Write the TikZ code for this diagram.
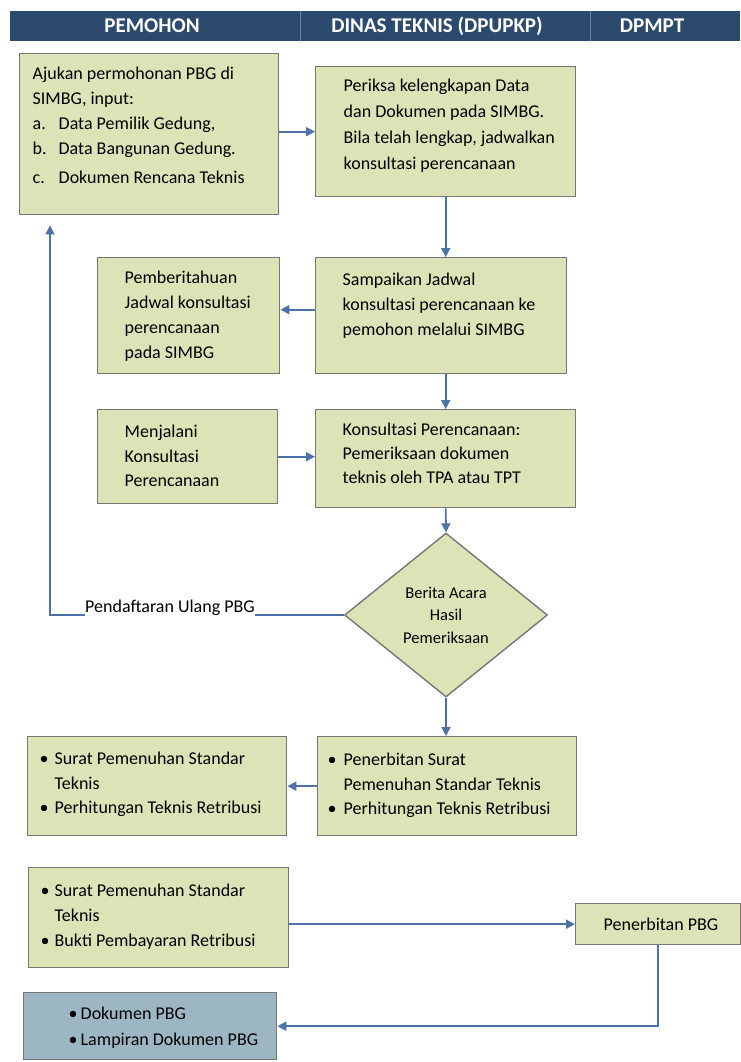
\documentclass[tikz,border=0pt]{standalone}
\usepackage{fontspec}
\setmainfont{Carlito}
\usetikzlibrary{shapes.geometric,arrows.meta,calc}
\definecolor{boxfill}{HTML}{DDE3B6}
\definecolor{boxline}{HTML}{777777}
\definecolor{arrowc}{HTML}{4D72A8}
\definecolor{headc}{HTML}{2C4A6E}
\definecolor{headdiv}{HTML}{6A84A4}
\definecolor{docfill}{HTML}{9CB6C4}
% width, height, left pad, first baseline, baselineskip, text
\newcommand\bt[6]{\parbox[c][#2pt][t]{#1pt}{\fontsize{18}{#5}\selectfont\raggedright\leftskip=#3pt\relax\vspace*{\dimexpr#4pt-13pt\relax}\rule{0pt}{13pt}#6}}
\newcommand\bul[1]{\makebox[#1pt][l]{\textbullet}}
\begin{document}
\begin{tikzpicture}[x=1pt,y=-1pt,
  box/.style={draw=boxline, line width=1.4pt, fill=boxfill, inner sep=0pt, anchor=north west},
  docbox/.style={box, fill=docfill},
  arr/.style={draw=arrowc, line width=1.8pt, -{Triangle[length=9pt,width=9pt]}},
  backline/.style={draw=arrowc, line width=1.3pt},
  htext/.style={text=white, font=\fontsize{21}{24}\selectfont\bfseries, inner sep=0pt},
  lbltext/.style={font=\fontsize{18}{20}\selectfont, inner sep=0pt}]
\useasboundingbox (0,0) rectangle (740,1062);
% header
\fill[headc] (10,11) rectangle (740,41);
\draw[headdiv, line width=0.8pt] (300,11) -- (300,41);
\draw[headdiv, line width=0.8pt] (590,11) -- (590,41);
\node[htext] (h1) at (152,26) {PEMOHON};
\node[htext] (h2) at (437,26) {DINAS TEKNIS (DPUPKP)};
\node[htext] (h3) at (652,26) {DPMPT};
% boxes
\node[box] (b1) at (19,53) {\bt{259}{161}{13}{26}{25}{Ajukan permohonan PBG di\\SIMBG, input:\\\makebox[26pt][l]{a.}Data Pemilik Gedung,\\\makebox[26pt][l]{b.}Data Bangunan Gedung.\\[4pt]\makebox[26pt][l]{c.}Dokumen Rencana Teknis}};
\node[box] (b2) at (315,66) {\bt{260}{130}{28}{25}{26}{Periksa kelengkapan Data\\dan Dokumen pada SIMBG.\\Bila telah lengkap, jadwalkan\\konsultasi perencanaan}};
\node[box] (b3) at (97,257) {\bt{182}{116}{27}{26}{25}{Pemberitahuan\\Jadwal konsultasi\\perencanaan\\pada SIMBG}};
\node[box] (b4) at (315,257) {\bt{251}{116}{27}{28}{25}{Sampaikan Jadwal\\konsultasi perencanaan ke\\pemohon melalui SIMBG}};
\node[box] (b5) at (97,409) {\bt{180}{94}{27}{28}{24.5}{Menjalani\\Konsultasi\\Perencanaan}};
\node[box] (b6) at (315,409) {\bt{260}{98}{27}{26}{24}{Konsultasi Perencanaan:\\Pemeriksaan dokumen\\teknis oleh TPA atau TPT}};
\node[diamond, draw=boxline, line width=1.4pt, fill=boxfill, inner sep=0pt, minimum width=203pt, minimum height=164pt, align=center, font=\fontsize{16.5}{22.5}\selectfont] (d) at (446,615) {Berita Acara\\Hasil\\Pemeriksaan};
\node[box] (b7) at (317,736) {\bt{259}{99}{10}{29}{24.5}{\bul{16}Penerbitan Surat\\\hspace*{16pt}Pemenuhan Standar Teknis\\\bul{16}Perhitungan Teknis Retribusi}};
\node[box] (b8) at (27,736) {\bt{259}{99}{12}{28}{24.5}{\bul{15}Surat Pemenuhan Standar\\\hspace*{15pt}Teknis\\\bul{15}Perhitungan Teknis Retribusi}};
\node[box] (b9) at (28,867) {\bt{260}{100}{12}{29}{25}{\bul{14}Surat Pemenuhan Standar\\\hspace*{14pt}Teknis\\\bul{14}Bukti Pembayaran Retribusi}};
\node[box] (b10) at (575,903) {\bt{165}{41}{28}{27}{25}{Penerbitan PBG}};
\node[docbox] (b11) at (23,992) {\bt{253}{67}{45}{27}{26}{\bul{12}Dokumen PBG\\\bul{12}Lampiran Dokumen PBG}};
% label of return path
\node[lbltext, anchor=base west] (lbl) at (85,612) {Pendaftaran Ulang PBG};
\coordinate (back) at ($(b1.south west)+(31,10)$);
% connectors
\draw[arr] (b1.east |- b2.west) -- (b2.west);
\draw[arr] (b2.south) -- (b2.south |- b4.north);
\draw[arr] ($(b4.west)+(0,-6)$) -- ($(b3.east |- b4.west)+(0,-6)$);
\draw[arr] (b4.south -| b2.south) -- (b2.south |- b6.north);
\draw[arr] (b5.east) -- (b6.west |- b5.east);
\draw[arr] (b6.south -| b2.south) -- (d.north);
\draw[arr] (d.south) -- (d.south |- b7.north);
\draw[arr] (b7.west |- b8.east) -- (b8.east);
\draw[backline] (d.west) -- (d.west -| lbl.east);
\draw[backline, -{Triangle[length=9pt,width=9pt]}] (d.west -| lbl.west) -- (d.west -| back) -- (back);
\draw[arr] (b9.east |- b10.west) -- (b10.west);
\draw[arr] (b10.south) |- (b11.east);
\end{tikzpicture}
\end{document}
